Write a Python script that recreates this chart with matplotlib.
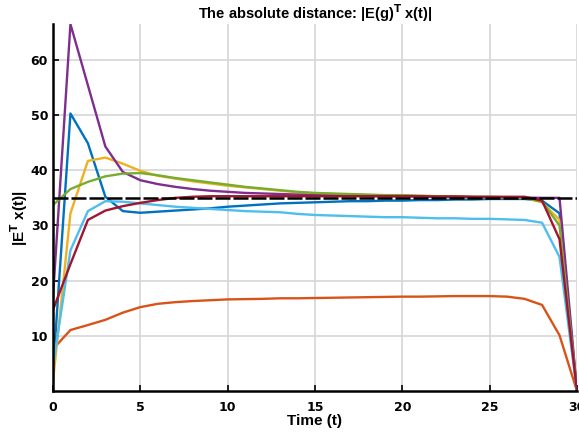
import matplotlib
matplotlib.use('Agg')
import matplotlib.pyplot as plt
import numpy as np

# time steps 0..30
t = np.arange(31)

blue = [3.5, 50.3, 44.9, 35.2, 32.6, 32.3, 32.5, 32.7, 32.9, 33.1, 33.4, 33.6, 33.8, 34.0, 34.1, 34.2,
        34.3, 34.4, 34.4, 34.5, 34.5, 34.6, 34.6, 34.7, 34.7, 34.8, 34.8, 34.8, 34.5, 32.2, 0.0]
orange = [7.6, 11.05, 11.95, 12.9, 14.2, 15.2, 15.8, 16.1, 16.3, 16.45, 16.6, 16.65, 16.7, 16.8, 16.8, 16.85,
          16.9, 16.95, 17.0, 17.05, 17.1, 17.1, 17.15, 17.2, 17.2, 17.2, 17.1, 16.7, 15.6, 10.1, 0.0]
yellow = [1.7, 32.2, 41.7, 42.3, 41.2, 39.9, 39.0, 38.5, 38.0, 37.6, 37.2, 36.9, 36.6, 36.3, 36.0, 35.8,
          35.7, 35.6, 35.5, 35.4, 35.4, 35.3, 35.2, 35.2, 35.1, 35.1, 35.0, 35.0, 34.2, 31.0, 0.0]
purple = [17.0, 66.5, 55.4, 44.3, 39.7, 38.2, 37.5, 37.0, 36.6, 36.3, 36.1, 35.9, 35.8, 35.7, 35.6, 35.5,
          35.45, 35.4, 35.35, 35.3, 35.3, 35.25, 35.2, 35.2, 35.15, 35.1, 35.1, 35.05, 35.0, 35.0, 0.0]
green = [33.7, 36.6, 37.9, 38.9, 39.4, 39.5, 39.1, 38.6, 38.2, 37.8, 37.4, 37.0, 36.7, 36.4, 36.1, 35.9,
         35.8, 35.7, 35.6, 35.5, 35.5, 35.4, 35.3, 35.3, 35.2, 35.2, 35.1, 35.0, 34.3, 30.0, 0.0]
lightblue = [4.5, 25.5, 32.6, 34.4, 34.3, 34.0, 33.7, 33.4, 33.2, 33.0, 32.8, 32.6, 32.5, 32.4, 32.1, 31.9,
             31.8, 31.7, 31.6, 31.5, 31.5, 31.4, 31.3, 31.3, 31.2, 31.2, 31.1, 31.0, 30.5, 24.3, 0.0]
darkred = [14.7, 23.0, 31.0, 32.7, 33.5, 34.1, 34.6, 35.0, 35.2, 35.3, 35.3, 35.3, 35.3, 35.3, 35.3, 35.3,
           35.3, 35.3, 35.3, 35.3, 35.3, 35.3, 35.25, 35.25, 35.2, 35.2, 35.2, 35.2, 34.5, 27.5, 0.0]
target = 35

series = [blue, orange, yellow, purple, green, lightblue, darkred]
colors = ['#0072BD', '#D95319', '#EDB120', '#7E2F8E', '#77AC30', '#4DBEEE', '#A2142F']

fig = plt.figure(figsize=(5.79, 4.41), dpi=100)
ax = fig.add_axes([0.0915, 0.1134, 0.905, 0.832])

for y, c in zip(series, colors):
    ax.plot(t, y, color=c, linewidth=1.7)
ax.plot([t[0], t[-1]], [target, target], color='k', linewidth=1.8, dashes=(6, 1.2))

ax.set_xlim(0, 30)
ax.set_ylim(0, 66.5)
ax.set_xticks(range(0, 31, 5))
ax.set_yticks(range(10, 61, 10))
ax.grid(True, color='#d6d6d6', linewidth=1.2)
ax.set_axisbelow(True)
for s in ['top', 'right']:
    ax.spines[s].set_visible(False)
for s in ['left', 'bottom']:
    ax.spines[s].set_linewidth(1.8)
ax.tick_params(direction='in', length=4, width=1.2, labelsize=9)
for lbl in ax.get_xticklabels() + ax.get_yticklabels():
    lbl.set_fontweight('bold')
ax.tick_params(axis='x', pad=7)

ax.set_title(r'The absolute distance: |E(g)$^\mathbf{T}$ x(t)|', fontsize=10.5,
             fontweight='bold', family='Liberation Sans', pad=3)
ax.set_xlabel('Time (t)', fontsize=11, fontweight='bold', family='Liberation Sans', labelpad=0)
ax.set_ylabel(r'|E$^\mathbf{T}$ x(t)|', fontsize=11, fontweight='bold', family='Liberation Sans', labelpad=-2)
ax.yaxis.set_label_coords(-0.044, 0.47)

fig.savefig('out.png', dpi=100)
